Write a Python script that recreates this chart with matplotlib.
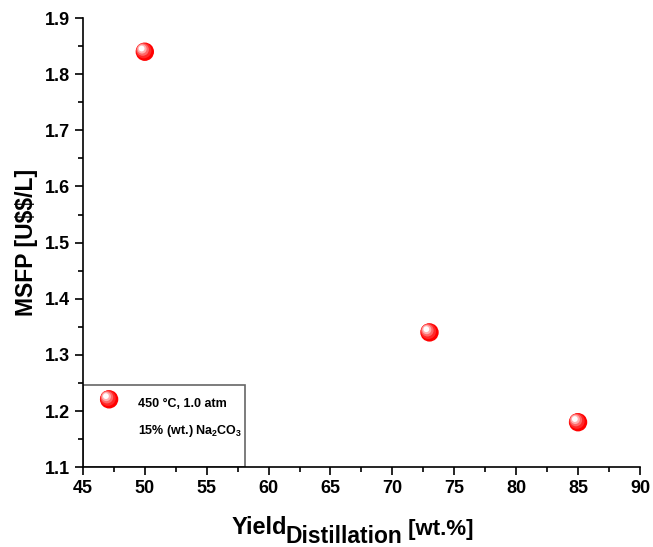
import matplotlib
matplotlib.use('Agg')
import matplotlib.pyplot as plt
from matplotlib.patches import Rectangle
from matplotlib.ticker import MultipleLocator, FormatStrFormatter
from matplotlib.transforms import offset_copy

plt.rcParams['font.family'] = ['Liberation Sans', 'DejaVu Sans']
plt.rcParams['font.weight'] = 'bold'
plt.rcParams['mathtext.fontset'] = 'custom'
plt.rcParams['mathtext.rm'] = 'Liberation Sans:bold'
plt.rcParams['mathtext.it'] = 'Liberation Sans:bold'
plt.rcParams['mathtext.bf'] = 'Liberation Sans:bold'
plt.rcParams['mathtext.default'] = 'rm'

# data
yield_distillation = [50, 73, 85]
msfp = [1.84, 1.34, 1.18]
legend_lines = ['450 °C, 1.0 atm', '15% (wt.) Na$_2$CO$_3$']

fig = plt.figure(figsize=(6.53, 5.47), dpi=100)
ax = fig.add_axes([0.127, 0.146, 0.853, 0.821])


def sphere(ax, x, y, size, **kw):
    # fake a shaded ball: red disc plus lighter highlight discs shifted up-left
    layers = [(1.0, '#ff0000', 0, 0),
              (0.7, '#ff2828', -0.8, 0.8),
              (0.45, '#ff6868', -1.5, 1.5),
              (0.25, '#ffb0b0', -2.0, 2.0),
              (0.1, '#ffffff', -2.3, 2.3)]
    base = kw.pop('transform', ax.transData)
    for frac, col, dx, dy in layers:
        tr = offset_copy(base, fig=ax.figure, x=dx, y=dy, units='points')
        ax.scatter(x, y, s=size * frac, c=col, edgecolors='none',
                   transform=tr, zorder=3, clip_on=False, **kw)


sphere(ax, yield_distillation, msfp, 175)

ax.set_xlim(45, 90)
ax.set_ylim(1.1, 1.9)
ax.xaxis.set_major_locator(MultipleLocator(5))
ax.xaxis.set_minor_locator(MultipleLocator(2.5))
ax.yaxis.set_major_locator(MultipleLocator(0.1))
ax.yaxis.set_minor_locator(MultipleLocator(0.05))
ax.yaxis.set_major_formatter(FormatStrFormatter('%.1f'))

ax.spines['top'].set_visible(False)
ax.spines['right'].set_visible(False)
for s in ['left', 'bottom']:
    ax.spines[s].set_linewidth(1.2)
ax.tick_params(which='major', direction='out', length=6, width=1.2, labelsize=13)
ax.tick_params(which='minor', direction='out', length=3.5, width=1.2)
for lab in ax.get_xticklabels() + ax.get_yticklabels():
    lab.set_fontweight('bold')

ax.set_ylabel(r'MSFP [U\$\$/L]', fontsize=16.5, fontweight='bold', labelpad=5)

# x label with a big lowered subscript
t1 = fig.text(0.355, 0.023, 'Yield', fontsize=17, fontweight='bold',
              ha='left', va='baseline')
t2 = ax.annotate('Distillation', xy=(1, 0), xycoords=t1, xytext=(-1.5, -6.5),
                 textcoords='offset points', fontsize=16.5, fontweight='bold',
                 ha='left', va='bottom')
t3 = ax.annotate(' [wt.%]', xy=(1, 0), xycoords=t2, xytext=(0, 6.2),
                 textcoords='offset points', fontsize=16, fontweight='bold',
                 ha='left', va='bottom')

# legend box in the lower-left corner
ax.add_patch(Rectangle((0, 0), 0.291, 0.184, transform=ax.transAxes,
                       facecolor='white', edgecolor='#666666', lw=1.2, zorder=2))
sphere(ax, [0.047], [0.151], 175, transform=ax.transAxes)
ax.text(0.099, 0.140, legend_lines[0], transform=ax.transAxes, fontsize=9,
        fontweight='bold', va='center', zorder=4)
ax.text(0.099, 0.080, legend_lines[1], transform=ax.transAxes, fontsize=9,
        fontweight='bold', va='center', zorder=4)

fig.savefig('out.png', dpi=100)
